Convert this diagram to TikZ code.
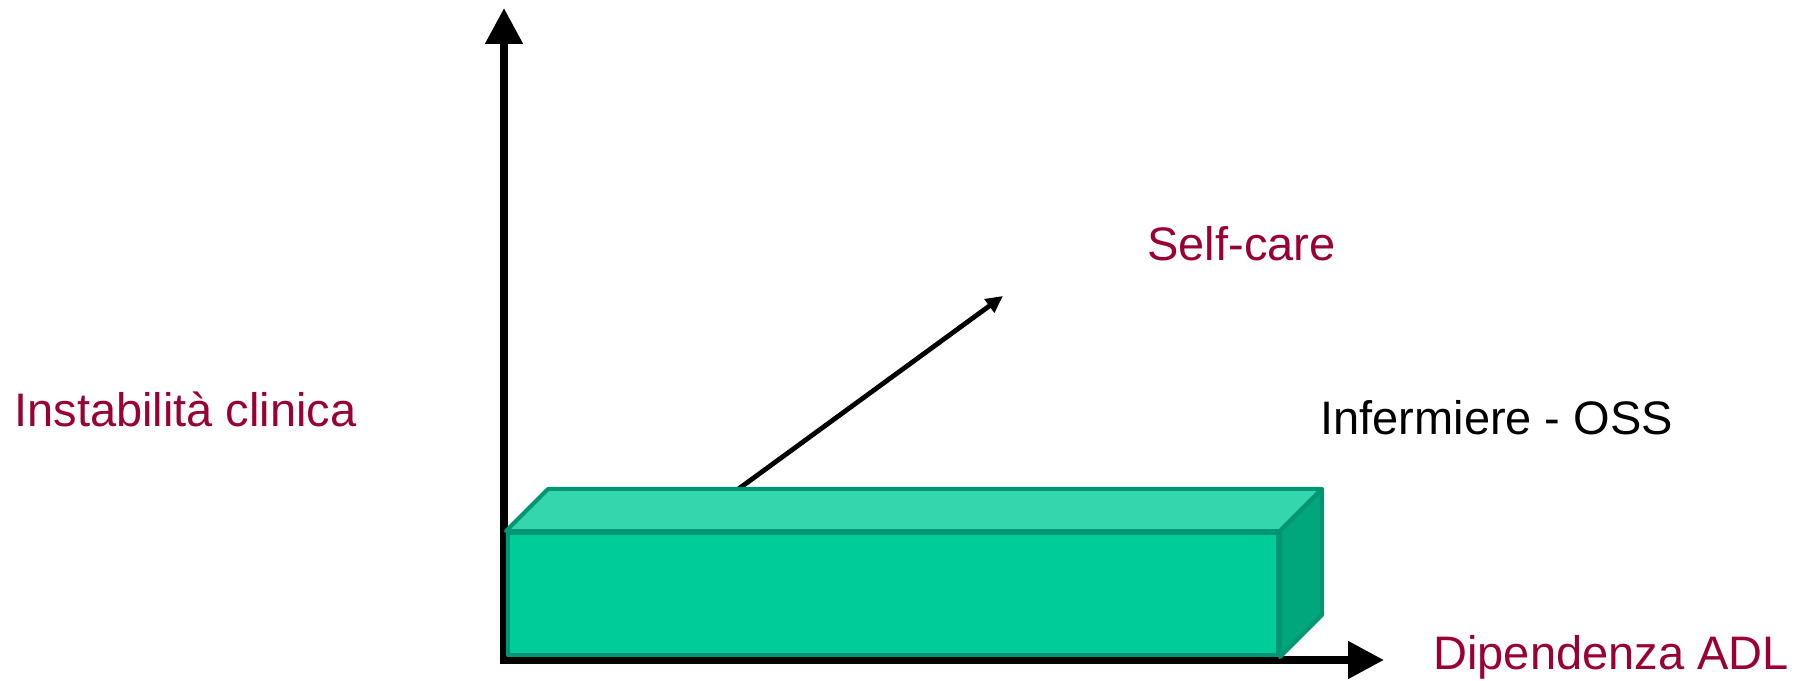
\documentclass[tikz,border=0pt]{standalone}
\usepackage{fontspec}
\setmainfont{Liberation Sans}
\usepackage{tikz}
\usetikzlibrary{arrows.meta}
\definecolor{wine}{HTML}{990033}
\definecolor{boxfront}{HTML}{00CC99}
\definecolor{boxtop}{HTML}{33D6AD}
\definecolor{boxside}{HTML}{00A67C}
\definecolor{boxedge}{HTML}{009673}

\begin{document}
\begin{tikzpicture}[
  x=0.5pt,
  y=0.5pt,
  axis/.style={
    {Triangle[length=18pt,width=18pt]}-{Triangle[length=18pt,width=18pt]},
    line width=4pt,draw=black
  },
  careaxis/.style={
    -{Triangle[length=8.5pt,width=8pt]},line width=2.4pt,draw=black
  },
  face/.style={draw=boxedge,line width=2pt,line join=round},
  axislabel/.style={
    font=\fontsize{23.5}{28}\selectfont,text=wine,inner sep=0pt,anchor=base west
  },
  rolelabel/.style={axislabel,text=black}
]
  \useasboundingbox (0,0) rectangle (1808,680);

  \coordinate (origin) at (504,20);
  \coordinate (ytip) at (504,672);
  \coordinate (xtip) at (1384,20);
  \coordinate (sctip) at (1003,384);
  \draw[careaxis] (origin) -- (sctip);
  \draw[axis] (ytip) -- (origin) -- (xtip);

  \node[face,fill=boxfront,minimum width=385pt,minimum height=61pt,inner sep=0pt]
    (front) at (893,86) {};
  \draw[face,fill=boxtop] (front.north west) -- ([shift={(42,42)}]front.north west)
    -- ([shift={(42,42)}]front.north east) -- (front.north east) -- cycle;
  \draw[face,fill=boxside] (front.north east) -- ([shift={(42,42)}]front.north east)
    -- ([shift={(42,42)}]front.south east) -- (front.south east) -- cycle;

  \node[axislabel] (ylab) at (14,253) {Instabilità clinica};
  \node[axislabel] (sclab) at (1147,419) {Self-care};
  \node[rolelabel] (role) at (1320,245) {Infermiere - OSS};
  \node[axislabel] (xlab) at (1433,11) {Dipendenza ADL};
\end{tikzpicture}
\end{document}
